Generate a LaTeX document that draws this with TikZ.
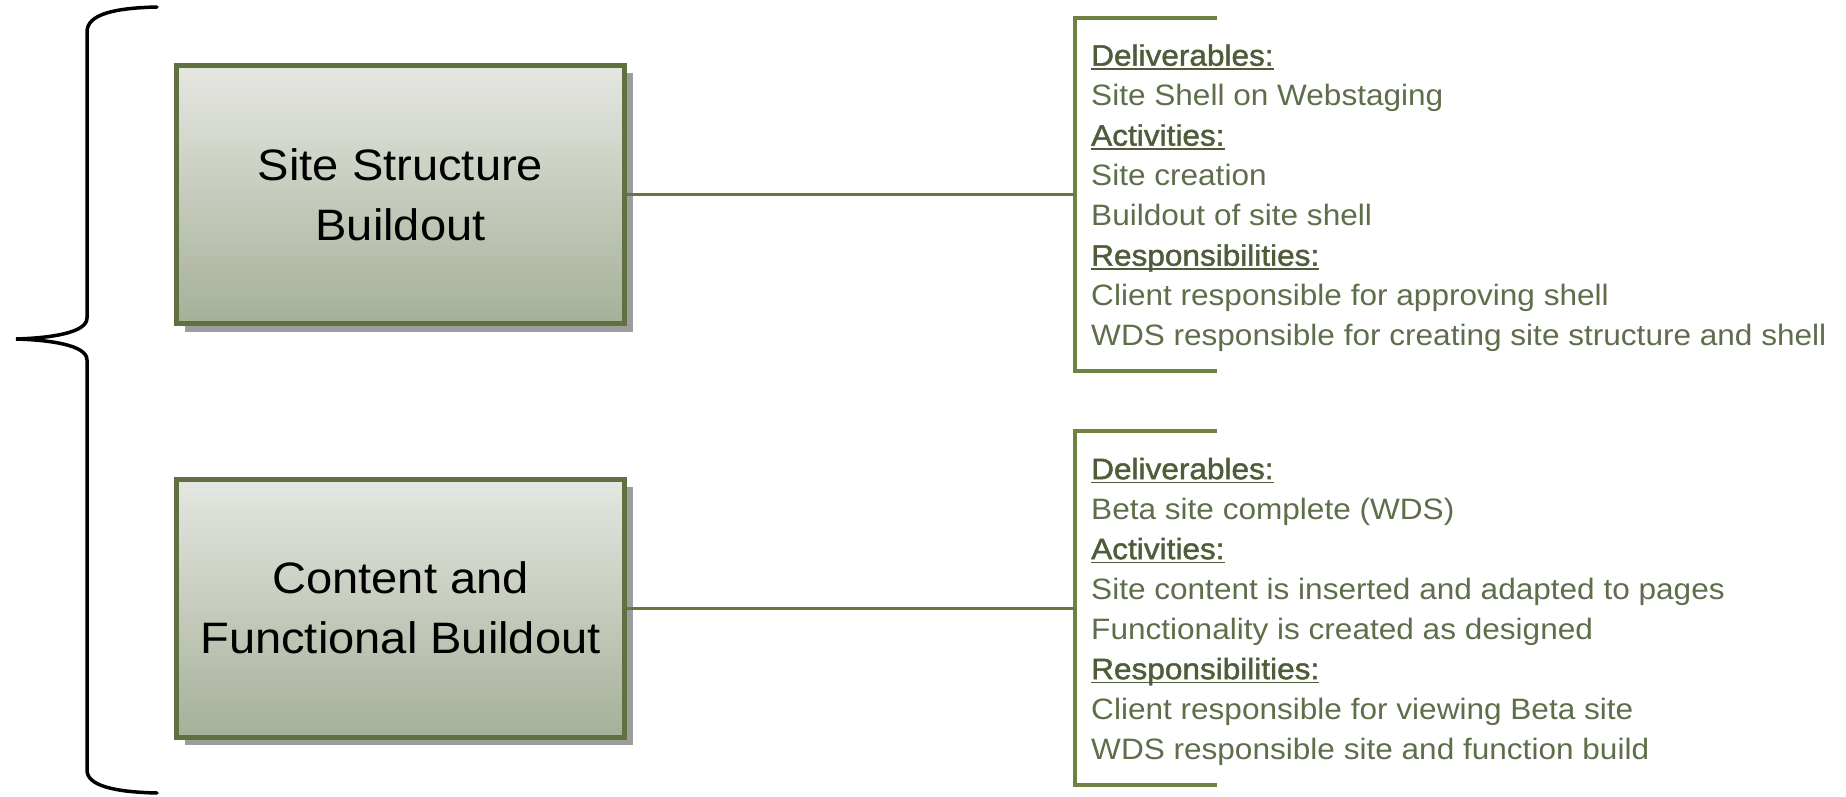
\documentclass[tikz,border=0pt]{standalone}
\usepackage{fontspec}
\setmainfont[FakeStretch=1.07]{Liberation Sans}
\newfontfamily\headfont[FakeStretch=1.07,FakeBold=1.5]{Liberation Sans}
\usetikzlibrary{shadows}
\definecolor{boxborder}{HTML}{5F7141}
\definecolor{bracketcol}{HTML}{6F8243}
\definecolor{linecol}{HTML}{65763F}
\definecolor{textcol}{HTML}{5E6E4A}
\definecolor{headcol}{HTML}{4E5C3A}
\definecolor{boxtop}{HTML}{E5E7E2}
\definecolor{boxbot}{HTML}{A6B098}
\definecolor{shadowgray}{HTML}{9D9D9D}
\newcommand\hd[1]{{\headfont\color{headcol}\setbox0\hbox{#1}\rlap{\rule[-4pt]{\wd0}{1.6pt}}\box0}}
\begin{document}
\begin{tikzpicture}[x=1pt,y=-1pt,
  phasebox/.style={draw=boxborder, line width=5pt, top color=boxtop, bottom color=boxbot,
    minimum width=448pt, minimum height=258pt, inner sep=0pt, align=center,
    font=\fontsize{44}{60}\selectfont,
    drop shadow={shadow xshift=8pt, shadow yshift=-8pt, fill=shadowgray, opacity=1}},
  connector/.style={draw=linecol, line width=3pt},
  bracket/.style={draw=bracketcol, line width=4.5pt},
  brace/.style={draw=black, line width=3.5pt, line cap=round},
  info/.style={anchor=west, inner sep=0pt, align=left, text=textcol,
    font=\fontsize{29.5}{40}\selectfont}]
\useasboundingbox (0,0) rectangle (1846,797);

% brace
\draw[brace] (157,7) .. controls (115,8) and (87,14) .. (87,32) -- (87,318)
  .. controls (87,333) and (50,338) .. (16,339)
  .. controls (50,340) and (87,345) .. (87,360) -- (87,770)
  .. controls (87,786) and (115,792) .. (157,793);

% boxes
\node[phasebox] (b1) at (400.5,194.5) {Site Structure\\Buildout};
\node[phasebox] (b2) at (400.5,608) {Content and\\Functional Buildout};

% brackets
\coordinate (br1) at (1075,194.5);
\coordinate (br2) at (1075,608);
\draw[bracket] (1217,18) -- (1075,18) -- (1075,371) -- (1217,371);
\draw[bracket] (1217,431) -- (1075,431) -- (1075,785) -- (1217,785);

% connectors
\draw[connector] (b1.east) -- (br1);
\draw[connector] (b2.east) -- (br2);

% text
\node[info] (t1) at (1091,198) {\hd{Deliverables:}\\
Site Shell on Webstaging\\
\hd{Activities:}\\
Site creation\\
Buildout of site shell\\
\hd{Responsibilities:}\\
Client responsible for approving shell\\
WDS responsible for creating site structure and shell};

\node[info] (t2) at (1091,611.5) {\hd{Deliverables:}\\
Beta site complete (WDS)\\
\hd{Activities:}\\
Site content is inserted and adapted to pages\\
Functionality is created as designed\\
\hd{Responsibilities:}\\
Client responsible for viewing Beta site\\
WDS responsible site and function build};
\end{tikzpicture}
\end{document}
